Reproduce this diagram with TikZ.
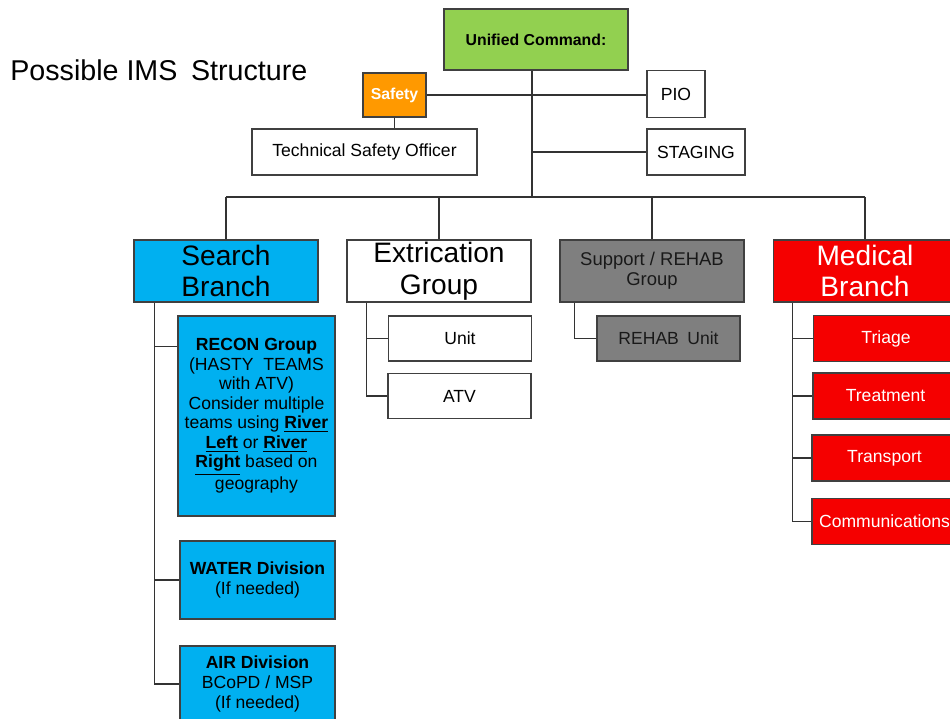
\documentclass[tikz,border=0pt]{standalone}
\usepackage{fontspec}
\setmainfont{Liberation Sans}
\usepackage{xcolor}
\usepackage{tikz}
\usetikzlibrary{calc}

\definecolor{ucgreen}{HTML}{92D050}
\definecolor{safeorange}{HTML}{FF9900}
\definecolor{searchblue}{HTML}{00B0F0}
\definecolor{supgray}{HTML}{7F7F7F}
\definecolor{medred}{HTML}{F50000}

\begin{document}
\begin{tikzpicture}[
        x=0.02cm, y=-0.02cm,
        box/.style = {draw=black!75, line width=0.6pt, rectangle, inner sep=1pt, align=center, font=\fontsize{10}{11.3}\selectfont},
        branch/.style = {box, minimum width=3.68cm, minimum height=1.24cm, font=\fontsize{16}{18}\selectfont},
        unitbox/.style = {box, minimum width=2.86cm, minimum height=0.9cm},
        medbox/.style = {box, fill=medred, text=white, minimum width=2.9cm, minimum height=0.92cm},
        link/.style = {draw=black!80, line width=0.8pt}
    ]

    % page frame
    \useasboundingbox (0,0) rectangle (950,719);
    \clip (0,0) rectangle (950,719);

    % title
    \node[anchor=west, inner sep=0pt, font=\fontsize{16.3}{19}\selectfont] (title) at (10,70) {Possible IMS\hspace{0.2em} Structure};

    % command staff at the top
    \node[box, fill=ucgreen, minimum width=3.68cm, minimum height=1.22cm, font=\bfseries\fontsize{9}{11}\selectfont] (uc) at (536,39.5) {Unified Command:};
    \node[box, fill=safeorange, text=white, minimum width=1.26cm, minimum height=0.88cm, font=\bfseries\fontsize{9}{11}\selectfont] (safety) at (394.5,95) {Safety};
    \node[box, minimum width=1.16cm, minimum height=0.94cm] (pio) at (676,94) {PIO};
    \node[box, minimum width=4.5cm, minimum height=0.92cm] (tso) at (364.5,152) {Technical Safety Officer};
    \node[box, minimum width=1.96cm, minimum height=0.92cm] (staging) at (696,152) {STAGING};

    % branches
    \node[branch, fill=searchblue] (search) at (226,271) {Search\\Branch};
    \node[branch] (extr) at (439,271) {Extrication\\Group};
    \node[branch, fill=supgray, text=black!90, font=\fontsize{10.5}{11.5}\selectfont] (support) at (652,271) {Support / REHAB\\Group};
    \node[branch, fill=medred, text=white] (medical) at (865,271) {Medical\\Branch};

    % search branch units
    \node[box, fill=searchblue, minimum width=3.14cm, minimum height=4cm, font=\fontsize{10}{11.1}\selectfont] (recon) at (256.5,416) {\textbf{RECON Group}\\(HASTY\ \ TEAMS\\with ATV)\\Consider multiple\\teams using \textbf{\underline{River}}\\\textbf{\underline{Left}} or \textbf{\underline{River}}\\\textbf{\underline{Right}} based on\\geography};
    \node[box, fill=searchblue, minimum width=3.1cm, minimum height=1.56cm] (water) at (257.5,580) {\textbf{WATER Division}\\(If needed)};
    \node[box, fill=searchblue, minimum width=3.1cm, minimum height=1.52cm] (air) at (257.5,684) {\textbf{AIR Division}\\BCoPD / MSP\\(If needed)};

    % extrication and support units
    \node[unitbox] (unit) at (460,338.5) {Unit};
    \node[unitbox] (atv) at (459.5,396) {ATV};
    \node[unitbox, fill=supgray, text=black!90] (rehab) at (668.5,338.5) {REHAB\hspace{0.2em} Unit};

    % medical units
    \node[medbox] (triage) at (886,338.5) {Triage};
    \node[medbox] (treatment) at (885.5,396) {Treatment};
    \node[medbox] (transport) at (884.5,458) {Transport};
    \node[medbox] (comms) at (884.5,521.5) {Communications};

    % command lines
    \coordinate (hub) at ([xshift=-0.08cm]uc.south);
    \coordinate (bus) at (532,197);
    \draw[link] (hub) -- (hub |- bus);
    \draw[link] (safety.east) -- (safety.east -| pio.west);
    \draw[link] (safety.south) -- (safety.south |- tso.north);
    \draw[link] (hub |- staging.west) -- (staging.west);
    \draw[link] (search.north |- bus) -- (medical.north |- bus);
    \foreach \b in {search, extr, support, medical}
        \draw[link] (\b.north |- bus) -- (\b.north);

    % search rail
    \coordinate (srail) at ([xshift=0.42cm]search.south west);
    \coordinate (recontick) at ([yshift=-0.62cm]recon.north west);
    \draw[link] (srail) |- (air.west);
    \draw[link] (srail |- recontick) -- (recontick);
    \draw[link] (srail |- water.west) -- (water.west);

    % extrication rail
    \coordinate (erail) at ([xshift=0.4cm]extr.south west);
    \draw[link] (erail) |- (atv.west);
    \draw[link] (erail |- unit.west) -- (unit.west);

    % support rail
    \coordinate (prail) at ([xshift=0.3cm]support.south west);
    \draw[link] (prail) |- (rehab.west);

    % medical rail
    \coordinate (mrail) at ([xshift=0.4cm]medical.south west);
    \draw[link] (mrail) |- (comms.west);
    \foreach \c in {triage, treatment, transport}
        \draw[link] (mrail |- \c.west) -- (\c.west);

\end{tikzpicture}
\end{document}
